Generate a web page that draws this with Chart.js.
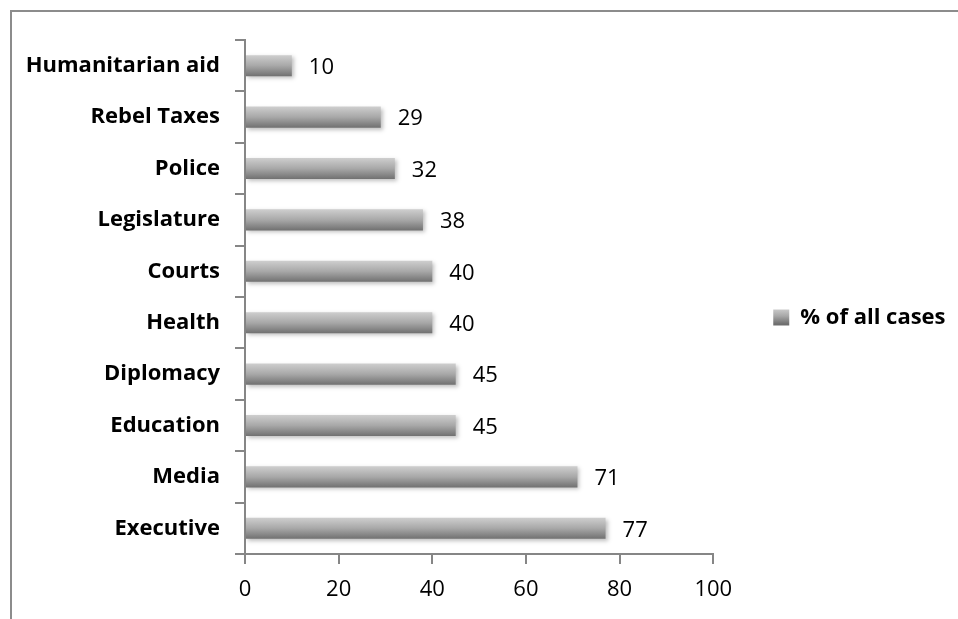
<!DOCTYPE html>
<html>
<head>
<meta charset="utf-8">
<script src="https://cdn.jsdelivr.net/npm/chart.js@4.4.1/dist/chart.umd.min.js"></script>
<style>
  html, body { margin: 0; padding: 0; background: #fff; overflow: hidden; }
  #frame { position: absolute; left: 10px; top: 10px; width: 1000px; height: 1000px;
           border-top: 2px solid #8c8c8c; border-left: 2px solid #8c8c8c; }
  #wrap { position: absolute; left: 0; top: 0; width: 958px; height: 619px; }
</style>
</head>
<body>
<div id="frame"></div>
<div id="wrap"><canvas id="cases-chart"></canvas></div>
<script>
// categories top to bottom, values in percent
const categories = ['Humanitarian aid', 'Rebel Taxes', 'Police', 'Legislature', 'Courts',
                    'Health', 'Diplomacy', 'Education', 'Media', 'Executive'];
const caseShares = [10, 29, 32, 38, 40, 40, 45, 45, 71, 77];
const xTicks = [0, 20, 40, 60, 80, 100];

const axisGray = '#868686';
const fontName = '"Open Sans", Lato, sans-serif';

function grayGradient(ctx, top, bottom) {
    const g = ctx.createLinearGradient(0, top, 0, bottom);
    g.addColorStop(0, '#d0d0d0');
    g.addColorStop(0.5, '#a8a8a8');
    g.addColorStop(1, '#6e6e6e');
    return g;
}

function barGradient(context) {
    const chart = context.chart;
    const yScale = chart.scales.y;
    if (context.dataIndex === undefined || !yScale) {
        return '#a4a4a4';
    }
    const center = yScale.getPixelForValue(context.dataIndex);
    return grayGradient(chart.ctx, center - 11, center + 11);
}

// soft shadow under the bars
const barShadow = {
    id: 'barShadow',
    beforeDatasetsDraw(chart) {
        const ctx = chart.ctx;
        ctx.save();
        ctx.shadowColor = 'rgba(0,0,0,0.25)';
        ctx.shadowBlur = 4;
        ctx.shadowOffsetX = 2;
        ctx.shadowOffsetY = 2;
    },
    afterDatasetsDraw(chart) {
        chart.ctx.restore();
    }
};

// value labels at the end of each bar
const valueLabels = {
    id: 'valueLabels',
    afterDatasetsDraw(chart) {
        const ctx = chart.ctx;
        const meta = chart.getDatasetMeta(0);
        ctx.save();
        ctx.font = '22px ' + fontName;
        ctx.fillStyle = '#000';
        ctx.textAlign = 'left';
        ctx.textBaseline = 'middle';
        meta.data.forEach((bar, i) => {
            ctx.fillText(String(caseShares[i]), bar.x + 17, bar.y + 2);
        });
        ctx.restore();
    }
};

const ctx = document.getElementById('cases-chart').getContext('2d');
new Chart(ctx, {
    type: 'bar',
    data: {
        labels: categories,
        datasets: [{
            label: '% of all cases',
            data: caseShares,
            backgroundColor: barGradient,
            borderWidth: 0,
            barPercentage: 0.41,
            categoryPercentage: 1
        }]
    },
    options: {
        indexAxis: 'y',
        responsive: true,
        maintainAspectRatio: false,
        animation: false,
        layout: {
            padding: { top: 40, left: 0, right: 7, bottom: 0 }
        },
        plugins: {
            tooltip: { enabled: false },
            legend: {
                position: 'right',
                fullSize: false,
                title: {
                    display: true,
                    text: '',
                    font: { size: 10 },
                    padding: { top: 29, bottom: 0 }
                },
                labels: {
                    boxWidth: 16,
                    boxHeight: 16,
                    padding: 60,
                    color: '#000',
                    font: { family: fontName, size: 22, weight: 'bold' },
                    generateLabels(chart) {
                        return [{
                            text: chart.data.datasets[0].label,
                            fillStyle: grayGradient(chart.ctx, 308, 324),
                            strokeStyle: 'rgba(0,0,0,0)',
                            fontColor: '#000',
                            lineWidth: 0,
                            hidden: false,
                            datasetIndex: 0
                        }];
                    }
                }
            }
        },
        scales: {
            x: {
                min: 0,
                max: 100,
                afterBuildTicks(scale) {
                    scale.ticks = xTicks.map(v => ({ value: v }));
                },
                afterFit(scale) {
                    scale.height = 65;
                },
                grid: {
                    drawOnChartArea: false,
                    drawTicks: true,
                    tickLength: 10,
                    color: axisGray,
                    lineWidth: 2
                },
                border: { color: axisGray, width: 2 },
                ticks: {
                    color: '#000',
                    padding: 13,
                    maxRotation: 0,
                    font: { family: fontName, size: 22 }
                }
            },
            y: {
                afterFit(scale) {
                    scale.width = 245;
                },
                grid: {
                    offset: true,
                    drawOnChartArea: false,
                    tickLength: 10,
                    color: axisGray,
                    lineWidth: 2
                },
                border: { color: axisGray, width: 2 },
                ticks: {
                    color: '#000',
                    padding: 15,
                    font: { family: fontName, size: 22, weight: 'bold' }
                }
            }
        }
    },
    plugins: [barShadow, valueLabels]
});
</script>
</body>
</html>
